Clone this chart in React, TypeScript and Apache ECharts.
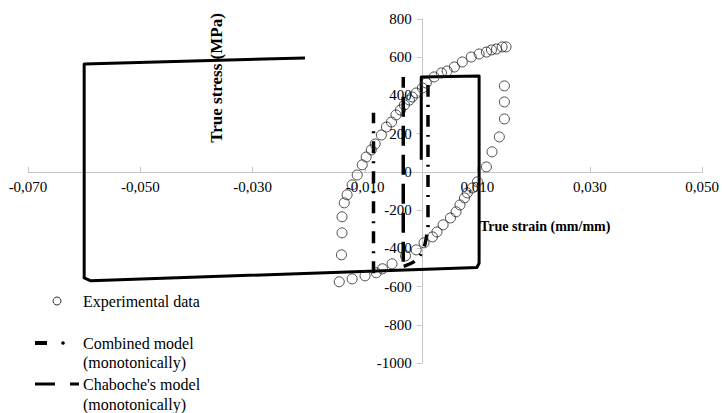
import React, { useEffect, useRef } from "react";
import * as echarts from "echarts";

// Experimental hysteresis loop (true strain mm/mm, true stress MPa)
const expStrain = [0.0151, 0.0148, 0.0148, 0.0148, 0.0139, 0.0126, 0.0116, 0.0100, 0.0091, 0.0082, 0.0077, 0.0069, 0.0062, 0.0052, 0.0039, 0.0028, 0.0020, 0.0005, -0.0009, -0.0028, -0.0052, -0.0069, -0.0080, -0.0100, -0.0123, -0.0146, -0.0142, -0.0141, -0.0141, -0.0137, -0.0132, -0.0123, -0.0114, -0.0105, -0.0098, -0.0089, -0.0082, -0.0071, -0.0062, -0.0053, -0.0045, -0.0037, -0.0030, -0.0021, -0.0016, -0.0009, 0.0002, 0.0009, 0.0023, 0.0036, 0.0046, 0.0059, 0.0073, 0.0089, 0.0103, 0.0116, 0.0125, 0.0134, 0.0144];
const expStress = [654, 450, 366, 277, 183, 105, 26, -52, -84, -110, -136, -173, -209, -241, -277, -314, -340, -371, -408, -439, -481, -507, -528, -544, -560, -575, -434, -319, -235, -162, -120, -68, -16, 37, 78, 115, 146, 193, 235, 261, 298, 324, 350, 376, 392, 413, 439, 465, 497, 518, 528, 549, 575, 601, 617, 627, 638, 643, 654];

// Solid simulated curve (no legend entry)
const simStrain = [0.0, 0.0, 0.0103, 0.0103, 0.0099, -0.0588, -0.06, -0.06, -0.0207];
const simStress = [63, 497, 502, -478, -500, -570, -555, 565, 596];

// Combined model (monotonically) - two branches
const combAStrain = [-0.0085, -0.0085];
const combAStress = [-530, 310];
const combBStrain = [0.0012, 0.0012, 0.0009, 0.0004, -0.0009, -0.0034];
const combBStress = [455, -280, -345, -400, -462, -497];

// Chaboche's model (monotonically)
const chabStrain = [-0.0032, -0.0032];
const chabStress = [-470, 497];

// Axis ticks
const xMin = -0.07, xMax = 0.05, xStep = 0.02;
const yMin = -1000, yMax = 800, yStep = 200;

const zip = (a: number[], b: number[]) => a.map((v, i) => [v, b[i]]);

const SERIF = "'Liberation Serif', serif";

const W = 722, H = 413;
const G = { left: 28, right: 19, top: 19, bottom: 50 };

export default function App() {
  const ref = useRef<HTMLDivElement>(null);
  useEffect(() => {
    if (!ref.current) return;
    const chart = echarts.init(ref.current, null, { renderer: "svg" });
    const axisColor = "#c6c6c6";
    const gw = W - G.left - G.right;
    const gh = H - G.top - G.bottom;
    // axes crossing at zero
    const xAxisOffset = -gh * (0 - yMin) / (yMax - yMin);
    const yAxisOffset = -gw * (0 - xMin) / (xMax - xMin);
    chart.setOption({
      animation: false,
      backgroundColor: "#ffffff",
      grid: { left: G.left, right: G.right, top: G.top, bottom: G.bottom, containLabel: false },
      xAxis: {
        type: "value",
        min: xMin,
        max: xMax,
        interval: xStep,
        position: "bottom",
        offset: xAxisOffset,
        axisLine: { show: true, onZero: false, lineStyle: { color: axisColor, width: 1 } },
        axisTick: { show: true, inside: true, length: 5, lineStyle: { color: axisColor } },
        splitLine: { show: false },
        axisLabel: {
          color: "#000",
          fontFamily: SERIF,
          fontSize: 15,
          margin: 8,
          formatter: (v: number) => v.toFixed(3).replace(".", ","),
        },
      },
      yAxis: {
        type: "value",
        min: yMin,
        max: yMax,
        interval: yStep,
        position: "left",
        offset: yAxisOffset,
        axisLine: { show: true, onZero: false, lineStyle: { color: axisColor, width: 1 } },
        axisTick: { show: true, length: 5, lineStyle: { color: axisColor } },
        splitLine: { show: false },
        axisLabel: {
          color: "#000",
          fontFamily: SERIF,
          fontSize: 15,
          margin: 10,
          formatter: (v: number) => String(Math.round(v)),
        },
      },
      series: [
        {
          name: "Simulation",
          type: "line",
          data: zip(simStrain, simStress),
          symbol: "none",
          lineStyle: { color: "#000", width: 3, join: "round" },
          z: 2,
        },
        {
          name: "Combined model (monotonically)",
          type: "line",
          data: zip(combAStrain, combAStress),
          symbol: "none",
          lineStyle: { color: "#000", width: 3.5, type: [12, 8, 2, 8] },
          z: 3,
        },
        {
          name: "Combined model (monotonically) B",
          type: "line",
          data: zip(combBStrain, combBStress),
          symbol: "none",
          smooth: 0.4,
          lineStyle: { color: "#000", width: 3.5, type: [12, 8, 2, 8] },
          z: 3,
        },
        {
          name: "Chaboche's model (monotonically)",
          type: "line",
          data: zip(chabStrain, chabStress),
          symbol: "none",
          lineStyle: { color: "#000", width: 3.5, type: [20, 9] },
          z: 3,
        },
        {
          name: "Experimental data",
          type: "scatter",
          data: zip(expStrain, expStress),
          symbol: "circle",
          symbolSize: 10,
          itemStyle: { color: "rgba(255,255,255,0)", borderColor: "#222", borderWidth: 1 },
          z: 4,
        },
      ],
      graphic: [
        {
          type: "text",
          x: 216,
          y: 78,
          rotation: Math.PI / 2,
          style: {
            text: "True stress (MPa)",
            font: `bold 17px ${SERIF}`,
            fill: "#000",
            align: "center",
            verticalAlign: "middle",
          },
        },
        {
          type: "text",
          x: 480,
          y: 226,
          style: {
            text: "True strain (mm/mm)",
            font: `bold 14px ${SERIF}`,
            fill: "#000",
            align: "left",
            verticalAlign: "middle",
          },
        },
        // Legend
        {
          type: "circle",
          shape: { cx: 57, cy: 301, r: 4 },
          style: { fill: "#fff", stroke: "#333", lineWidth: 1 },
        },
        {
          type: "text",
          x: 83,
          y: 301,
          style: { text: "Experimental data", font: `16px ${SERIF}`, fill: "#000", verticalAlign: "middle" },
        },
        {
          type: "line",
          shape: { x1: 35, y1: 343, x2: 47, y2: 343 },
          style: { stroke: "#000", lineWidth: 4 },
        },
        {
          type: "circle",
          shape: { cx: 63, cy: 343, r: 1.8 },
          style: { fill: "#000" },
        },
        {
          type: "text",
          x: 83,
          y: 343,
          style: { text: "Combined model", font: `16px ${SERIF}`, fill: "#000", verticalAlign: "middle" },
        },
        {
          type: "text",
          x: 83,
          y: 362,
          style: { text: "(monotonically)", font: `16px ${SERIF}`, fill: "#000", verticalAlign: "middle" },
        },
        {
          type: "line",
          shape: { x1: 35, y1: 384, x2: 55, y2: 384 },
          style: { stroke: "#000", lineWidth: 3 },
        },
        {
          type: "line",
          shape: { x1: 70, y1: 384, x2: 79, y2: 384 },
          style: { stroke: "#000", lineWidth: 3 },
        },
        {
          type: "text",
          x: 83,
          y: 384,
          style: { text: "Chaboche's model", font: `16px ${SERIF}`, fill: "#000", verticalAlign: "middle" },
        },
        {
          type: "text",
          x: 83,
          y: 404,
          style: { text: "(monotonically)", font: `16px ${SERIF}`, fill: "#000", verticalAlign: "middle" },
        },
      ],
    });
    return () => chart.dispose();
  }, []);
  return (
    <div
      ref={ref}
      style={{ position: "fixed", left: 0, top: 0, width: W, height: H, background: "#fff" }}
    />
  );
}
